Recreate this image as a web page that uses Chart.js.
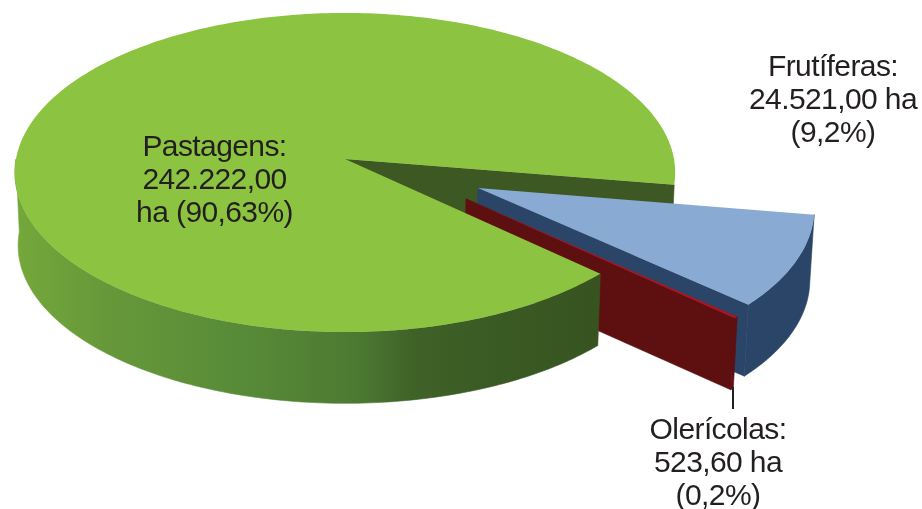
<!DOCTYPE html>
<html lang="pt">
<head>
<meta charset="utf-8">
<style>
  html, body { margin: 0; padding: 0; background: #ffffff; }
  canvas { display: block; }
</style>
<script src="https://cdn.jsdelivr.net/npm/chart.js@4/dist/chart.umd.min.js"></script>
</head>
<body>
<canvas id="chart" width="922" height="509"></canvas>
<script>
// Land use, in hectares
const categories = ['Pastagens', 'Frutíferas', 'Olerícolas'];
const areaHa = [242222.00, 24521.00, 523.60];
const calloutLines = [
  ['Pastagens:', '242.222,00', 'ha (90,63%)'],
  ['Frutíferas:', '24.521,00 ha', '(9,2%)'],
  ['Olerícolas:', '523,60 ha', '(0,2%)']
];

// Disc projection: tilt flattens the disc, perspective enlarges its near side,
// floorScale and thickness place the lower face.
const tilt = 0.4815;
const perspective = 0.0846;
const floorScale = 0.99;
const thickness = 73;

// Where each slice is pulled out to, as fractions of the radius
const pullOut = [[0, 0], [0.398, 0.18], [0.36, 0.245]];

const sliceStyles = [
  { top: '#8cc441', cut: '#3d5823', rim: null },
  { top: '#89aad3', cut: '#2b4568', rim: '#2b4568' },
  { top: '#b3121c', cut: '#5e0f10', rim: '#5e0f10' }
];
const greenRimStops = [
  [0, '#74a83a'], [0.15, '#67993a'], [0.4, '#578a38'], [0.58, '#4d7a32'],
  [0.68, '#3f6228'], [0.82, '#3a5a23'], [1, '#375420']
];

const deg = Math.PI / 180;

function projector(arc) {
  const rx = arc.outerRadius;
  const ry = rx * tilt;
  return (u, v, lower) => {
    const w = 1 - perspective * v;
    const s = lower ? floorScale : 1;
    return [arc.x + s * rx * u / w, arc.y + (lower ? thickness : 0) + s * ry * v / w];
  };
}

function tracePolygon(ctx, pts) {
  ctx.beginPath();
  pts.forEach((p, i) => (i ? ctx.lineTo(p[0], p[1]) : ctx.moveTo(p[0], p[1])));
  ctx.closePath();
}

function rimPoints(project, shift, a0, a1, lower) {
  const n = Math.max(2, Math.ceil(Math.abs(a1 - a0) / deg));
  const pts = [];
  for (let i = 0; i <= n; i++) {
    const a = a0 + (a1 - a0) * i / n;
    pts.push(project(shift[0] + Math.cos(a), shift[1] + Math.sin(a), lower));
  }
  return pts;
}

function paintFace(ctx, fill) {
  ctx.fillStyle = fill;
  ctx.strokeStyle = fill;
  ctx.lineWidth = 0.6;
  ctx.fill();
  ctx.stroke();
}

function drawTop(ctx, arc, index) {
  const project = projector(arc);
  const shift = pullOut[index];
  const pts = [project(shift[0], shift[1], false),
    ...rimPoints(project, shift, arc.startAngle, arc.endAngle, false)];
  tracePolygon(ctx, pts);
  ctx.fillStyle = sliceStyles[index].top;
  ctx.fill();
}

function drawCut(ctx, arc, index, angle) {
  const project = projector(arc);
  const s = pullOut[index];
  const u = s[0] + Math.cos(angle), v = s[1] + Math.sin(angle);
  tracePolygon(ctx, [project(s[0], s[1], false), project(u, v, false),
    project(u, v, true), project(s[0], s[1], true)]);
  paintFace(ctx, sliceStyles[index].cut);
}

function drawRim(ctx, arc, index, a0, a1, fill) {
  const project = projector(arc);
  const s = pullOut[index];
  tracePolygon(ctx, [...rimPoints(project, s, a0, a1, false),
    ...rimPoints(project, s, a1, a0, true)]);
  paintFace(ctx, fill);
}

const disc3d = {
  id: 'disc3d',
  beforeDatasetDraw(chart) {
    const ctx = chart.ctx;
    const [green, blue, red] = chart.getDatasetMeta(0).data;
    ctx.save();

    // Far cut face of the large slice, seen through the gap
    drawCut(ctx, green, 0, green.endAngle);

    // Pulled-out slice
    drawCut(ctx, blue, 1, blue.endAngle);
    drawRim(ctx, blue, 1, blue.startAngle, blue.endAngle, sliceStyles[1].rim);
    drawTop(ctx, blue, 1);

    // Thin slice
    drawCut(ctx, red, 2, red.endAngle);
    drawRim(ctx, red, 2, red.startAngle, red.endAngle, sliceStyles[2].rim);
    drawTop(ctx, red, 2);

    // Near rim of the large slice with its shading, up to the left-most point
    const shade = ctx.createLinearGradient(15, 0, 600, 0);
    greenRimStops.forEach(([at, color]) => shade.addColorStop(at, color));
    drawRim(ctx, green, 0, green.startAngle, Math.PI, shade);
    drawTop(ctx, green, 0);

    ctx.restore();
    return false;
  }
};

const callouts = {
  id: 'callouts',
  afterDraw(chart) {
    const ctx = chart.ctx;
    const places = [[214.5, 155.5], [833, 76], [718, 438.5]];
    ctx.save();
    ctx.font = '30px "Liberation Sans", Arial, sans-serif';
    ctx.letterSpacing = '-0.6px';
    ctx.fillStyle = '#231f20';
    ctx.textAlign = 'center';
    ctx.textBaseline = 'alphabetic';
    calloutLines.forEach((lines, i) => {
      lines.forEach((line, j) => ctx.fillText(line, places[i][0], places[i][1] + j * 33));
    });
    // Leader from the thin slice to its label
    ctx.strokeStyle = '#231f20';
    ctx.lineWidth = 2;
    ctx.beginPath();
    ctx.moveTo(733, 387);
    ctx.lineTo(733, 409);
    ctx.stroke();
    ctx.restore();
  }
};

new Chart(document.getElementById('chart'), {
  type: 'pie',
  data: {
    labels: categories,
    datasets: [{ data: areaHa, borderWidth: 0 }]
  },
  options: {
    responsive: false,
    animation: false,
    rotation: 133,
    radius: 329,
    layout: { padding: { left: 0, top: 0, right: 232, bottom: 191 } },
    plugins: { legend: { display: false }, tooltip: { enabled: false } }
  },
  plugins: [disc3d, callouts]
});
</script>
</body>
</html>
